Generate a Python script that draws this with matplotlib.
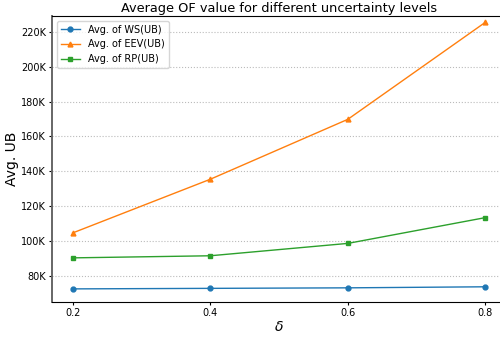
import matplotlib
matplotlib.use("Agg")
import matplotlib.pyplot as plt
from matplotlib.ticker import FuncFormatter

# uncertainty levels and the average objective values (upper bound)
delta = [0.2, 0.4, 0.6, 0.8]
ws_ub = [72500, 72800, 73100, 73700]
eev_ub = [104600, 135400, 169800, 225500]
rp_ub = [90300, 91500, 98600, 113400]

fig = plt.figure(figsize=(5, 3.37), dpi=100)
ax = fig.add_axes([0.104, 0.104, 0.908, 0.849])

ax.plot(delta, ws_ub, marker='o', markersize=3.5, linewidth=1, label='Avg. of WS(UB)')
ax.plot(delta, eev_ub, marker='^', markersize=3.5, linewidth=1, label='Avg. of EEV(UB)')
ax.plot(delta, rp_ub, marker='s', markersize=3.5, linewidth=1, label='Avg. of RP(UB)')

ax.set_ylim(65000, 229200)
ax.set_xticks(delta)
ax.yaxis.set_major_formatter(FuncFormatter(lambda v, p: f'{int(v / 1000)}K'))
ax.tick_params(labelsize=7, length=2.5, pad=2)
ax.grid(axis='y', linestyle=':', color='#bbbbbb', linewidth=0.8)
ax.spines['right'].set_visible(False)
ax.spines['left'].set_color('#666666')
ax.spines['left'].set_linewidth(1.4)

ax.set_title('Average OF value for different uncertainty levels', fontsize=9.3, pad=3)
ax.set_xlabel(r'$\delta$', fontsize=10, labelpad=1)
ax.set_ylabel('Avg. UB', fontsize=10, labelpad=1)
ax.legend(loc='upper left', fontsize=7)

fig.savefig('out.png', dpi=100)
